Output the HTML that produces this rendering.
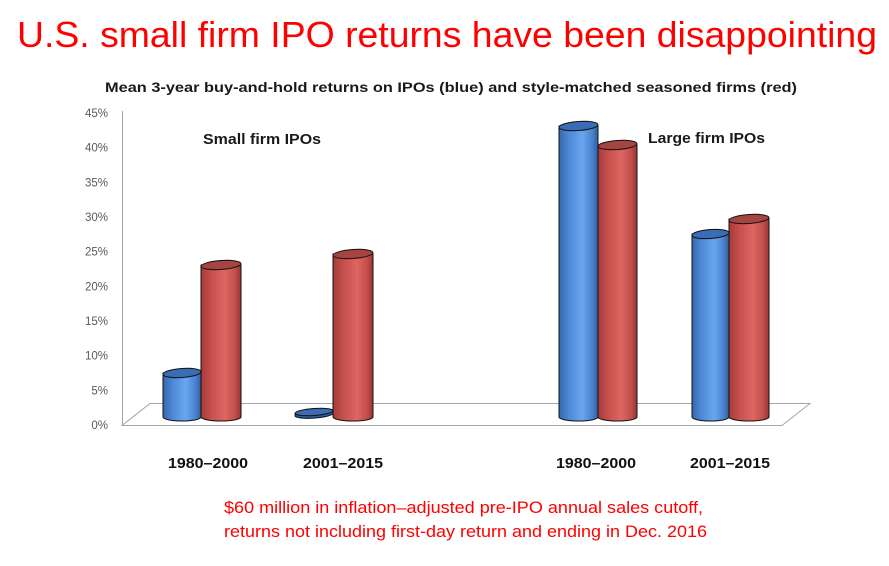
<!DOCTYPE html>
<html><head><meta charset="utf-8"><style>
html,body{margin:0;padding:0;background:#fff;}
svg{display:block;}
</style></head><body>
<svg width="889" height="566" viewBox="0 0 889 566" xmlns="http://www.w3.org/2000/svg">
<defs>
<linearGradient id="gb" x1="0" x2="1" y1="0" y2="0">
<stop offset="0" stop-color="#3567ad"/>
<stop offset="0.25" stop-color="#4d88d6"/>
<stop offset="0.6" stop-color="#6aa6f0"/>
<stop offset="0.85" stop-color="#4a82cf"/>
<stop offset="1" stop-color="#2f5f9f"/>
</linearGradient>
<linearGradient id="gr" x1="0" x2="1" y1="0" y2="0">
<stop offset="0" stop-color="#a43c3a"/>
<stop offset="0.25" stop-color="#c44f4c"/>
<stop offset="0.6" stop-color="#df6662"/>
<stop offset="0.85" stop-color="#c24e4b"/>
<stop offset="1" stop-color="#983533"/>
</linearGradient>
</defs>
<rect width="889" height="566" fill="#fff"/>
<text x="17" y="47" font-family="Liberation Sans, Arial, sans-serif" font-size="36" fill="#ff0000" textLength="860" lengthAdjust="spacingAndGlyphs">U.S. small firm IPO returns have been disappointing</text>
<text x="105" y="92" font-family="Liberation Sans, Arial, sans-serif" font-weight="bold" font-size="13.5" fill="#1a1a1a" textLength="692" lengthAdjust="spacingAndGlyphs">Mean 3-year buy-and-hold returns on IPOs (blue) and style-matched seasoned firms (red)</text>

<g stroke="#a6a6a6" stroke-width="1" fill="none">
<line x1="122.5" y1="111" x2="122.5" y2="425"/>
<polygon points="122,425.5 782,425.5 810,403.5 150,403.5"/>
</g>
<g font-family="Liberation Sans, Arial, sans-serif" font-size="11.5" fill="#595959" text-anchor="end">
<text x="108" y="117">45%</text>
<text x="108" y="151.7">40%</text>
<text x="108" y="186.3">35%</text>
<text x="108" y="221">30%</text>
<text x="108" y="255.7">25%</text>
<text x="108" y="290.3">20%</text>
<text x="108" y="325">15%</text>
<text x="108" y="359.7">10%</text>
<text x="108" y="394.3">5%</text>
<text x="108" y="429">0%</text>
</g>

<g stroke="#111" stroke-width="1">
<path d="M163,373 L163,417 A19,4 0 0 0 201,417 L201,373 Z" fill="url(#gb)"/>
<ellipse cx="182" cy="373" rx="19" ry="4.5" transform="rotate(-4 182 373)" fill="#3b6db5"/>
<path d="M201,265 L201,417 A20,4 0 0 0 241,417 L241,265 Z" fill="url(#gr)"/>
<ellipse cx="221" cy="265" rx="20" ry="4.5" transform="rotate(-4 221 265)" fill="#a64441"/>

<path d="M295,413 L295,415 A19,4 0 0 0 333,413 L333,411 Z" fill="#2f5f9f" transform="rotate(-4 314 413)"/>
<ellipse cx="314" cy="412" rx="19" ry="3.5" transform="rotate(-4 314 412)" fill="#3b6db5"/>
<path d="M333,254 L333,417 A20,4 0 0 0 373,417 L373,254 Z" fill="url(#gr)"/>
<ellipse cx="353" cy="254" rx="20" ry="4.5" transform="rotate(-4 353 254)" fill="#a64441"/>

<path d="M559,126 L559,417 A19.5,4 0 0 0 598,417 L598,126 Z" fill="url(#gb)"/>
<ellipse cx="578.5" cy="126" rx="19.5" ry="4.5" transform="rotate(-4 578.5 126)" fill="#3b6db5"/>
<path d="M598,145 L598,417 A19.5,4 0 0 0 637,417 L637,145 Z" fill="url(#gr)"/>
<ellipse cx="617.5" cy="145" rx="19.5" ry="4.5" transform="rotate(-4 617.5 145)" fill="#a64441"/>

<path d="M692,234 L692,417 A18.5,4 0 0 0 729,417 L729,234 Z" fill="url(#gb)"/>
<ellipse cx="710.5" cy="234" rx="18.5" ry="4.5" transform="rotate(-4 710.5 234)" fill="#3b6db5"/>
<path d="M729,219 L729,417 A20,4 0 0 0 769,417 L769,219 Z" fill="url(#gr)"/>
<ellipse cx="749" cy="219" rx="20" ry="4.5" transform="rotate(-4 749 219)" fill="#a64441"/>
</g>

<g font-family="Liberation Sans, Arial, sans-serif" font-weight="bold" font-size="14.5" fill="#1a1a1a">
<text x="203" y="144" textLength="118" lengthAdjust="spacingAndGlyphs">Small firm IPOs</text>
<text x="648" y="143" textLength="117" lengthAdjust="spacingAndGlyphs">Large firm IPOs</text>
</g>
<g font-family="Liberation Sans, Arial, sans-serif" font-weight="bold" font-size="14.5" fill="#111">
<text x="168" y="468" textLength="80" lengthAdjust="spacingAndGlyphs">1980–2000</text>
<text x="303" y="468" textLength="80" lengthAdjust="spacingAndGlyphs">2001–2015</text>
<text x="556" y="468" textLength="80" lengthAdjust="spacingAndGlyphs">1980–2000</text>
<text x="690" y="468" textLength="80" lengthAdjust="spacingAndGlyphs">2001–2015</text>
</g>
<g font-family="Liberation Sans, Arial, sans-serif" font-size="16.5" fill="#ff0000">
<text x="224" y="513" textLength="479" lengthAdjust="spacingAndGlyphs">$60 million in inflation–adjusted pre-IPO annual sales cutoff,</text>
<text x="224" y="537" textLength="483" lengthAdjust="spacingAndGlyphs">returns not including first-day return and ending in Dec. 2016</text>
</g>
</svg>
</body></html>
